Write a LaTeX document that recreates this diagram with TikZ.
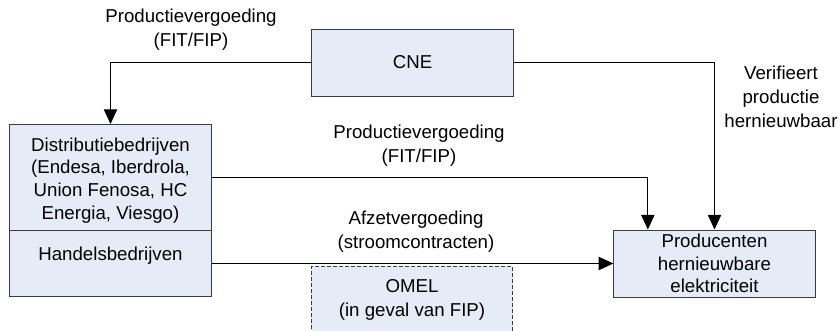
\documentclass[tikz,border=0pt]{standalone}
\usepackage{fontspec}
\setmainfont{Liberation Sans}
\usetikzlibrary{arrows.meta}
\definecolor{boxfill}{RGB}{230,236,247}
\definecolor{boxline}{RGB}{60,60,60}
\tikzset{
  box/.style={draw=boxline, fill=boxfill, line width=0.75pt, align=center, inner sep=0pt, minimum width=151pt},
  boxtext/.style={align=center, inner sep=0pt, anchor=north, font=\fontsize{14}{17}\selectfont},
  lbl/.style={align=center},
}

\begin{document}
\begin{tikzpicture}[x=0.75pt, y=-0.75pt, >={Triangle[length=11pt,width=10pt]}, line width=0.8pt, font=\fontsize{14}{18}\selectfont]
  \useasboundingbox (0,0) rectangle (840,330);
  \node[box, minimum height=50.25pt] (cne) at (412.5,62.5) {CNE};
  \node[box, minimum height=79.5pt] (distr) at (110.5,177.5) {};
  \node[boxtext] (distrtxt) at ([yshift=-9.75pt]distr.north) {Distributiebedrijven\\(Endesa, Iberdrola,\\Union Fenosa, HC\\Energia, Viesgo)};
  \node[box, minimum height=49.5pt] (handel) at (110.5,263.5) {};
  \node[boxtext] (handeltxt) at ([yshift=-12.5pt]handel.north) {Handelsbedrijven};
  \node[box, minimum height=50.25pt, font=\fontsize{14}{17}\selectfont] (prod) at (714.5,263.5) {Producenten\\hernieuwbare\\elektriciteit};
  \coordinate (prodin) at ([xshift=25.875pt]prod.north west);
  % geldstromen
  \draw[->] (cne.west) -| (distr.north);
  \draw[->] (cne.east) -| (prod.north);
  \draw[->] (distr.east) -| (prodin);
  \draw[->] (handel.east) -- (prod.west);
  \node[box, dash pattern=on 3pt off 1.5pt, minimum height=50.25pt] (omel) at (412,300) {OMEL\\(in geval van FIP)};
  % labels
  \node[lbl] (lblcne) at (191,30) {Productievergoeding\\(FIT/FIP)};
  \node[lbl] (lbldistr) at (419,145.5) {Productievergoeding\\(FIT/FIP)};
  \node[lbl] (lblafzet) at (416,231.5) {Afzetvergoeding\\(stroomcontracten)};
  \node[lbl] (lblverif) at (781,97) {Verifieert\\productie\\hernieuwbaar};
\end{tikzpicture}
\end{document}
